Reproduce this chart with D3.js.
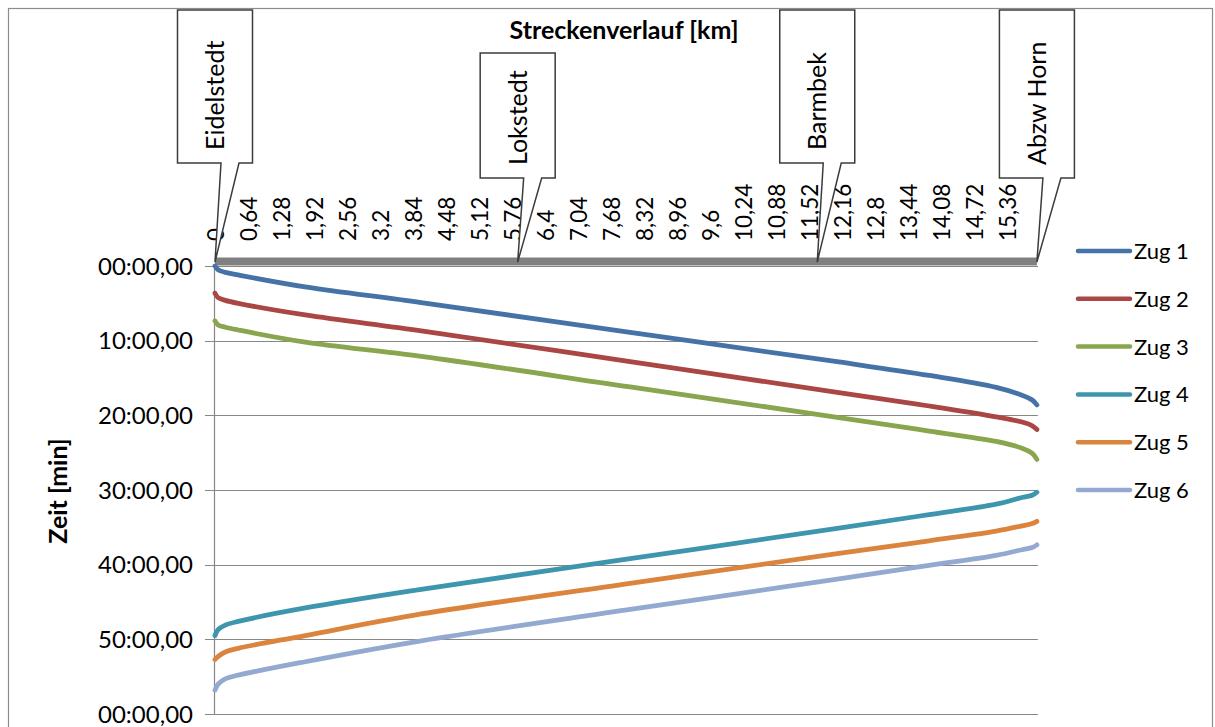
<!DOCTYPE html>
<html><head><meta charset="utf-8">
<script src="https://cdn.jsdelivr.net/npm/d3@7"></script>
<style>
body{margin:0;background:#fff}
svg{display:block}
text{font-family:Lato,"Open Sans",sans-serif;fill:#000}
</style>
</head><body>
<svg id="c" width="1215" height="727"></svg>
<script>
// ---- data ----
const km = [0, 0.06, 0.2, 0.45, 1.75, 4.0, 8.05, 12.1, 13.85, 15.15, 15.65, 15.85, 15.94];
const zug1 = [0, 0.5, 0.85, 1.2, 2.8, 4.9, 8.9, 12.85, 14.65, 16.25, 17.3, 17.95, 18.6];
const zug2 = [3.65, 4.24, 4.6, 5.0, 6.56, 8.7, 12.8, 16.96, 18.75, 20.2, 20.9, 21.4, 21.9];
const zug3 = [7.36, 7.9, 8.2, 8.57, 10.2, 12.1, 16.2, 20.3, 22.1, 23.5, 24.4, 25.1, 25.9];
const zug4 = [49.5, 48.7, 48.1, 47.6, 45.8, 43.3, 39.2, 35.1, 33.3, 31.9, 31.0, 30.7, 30.3];
const zug5 = [52.7, 52.3, 51.7, 51.2, 49.5, 46.6, 42.5, 38.5, 36.8, 35.5, 34.8, 34.5, 34.2];
const zug6 = [56.8, 56.0, 55.3, 54.8, 53.0, 50.2, 46.0, 41.9, 40.1, 38.75, 38.0, 37.7, 37.35];
const seriesNames = ["Zug 1", "Zug 2", "Zug 3", "Zug 4", "Zug 5", "Zug 6"];
const seriesColors = ["#4572A7", "#AA4643", "#89A54E", "#3D96AE", "#DB843D", "#93A9CF"];
const xTickValues = [0,0.64,1.28,1.92,2.56,3.2,3.84,4.48,5.12,5.76,6.4,7.04,7.68,8.32,8.96,9.6,10.24,10.88,11.52,12.16,12.8,13.44,14.08,14.72,15.36];
const xTickLabels = ["0","0,64","1,28","1,92","2,56","3,2","3,84","4,48","5,12","5,76","6,4","7,04","7,68","8,32","8,96","9,6","10,24","10,88","11,52","12,16","12,8","13,44","14,08","14,72","15,36"];
const yTickValues = [0, 10, 20, 30, 40, 50, 60];
const yTickLabels = ["00:00,00","10:00,00","20:00,00","30:00,00","40:00,00","50:00,00","00:00,00"];
const stations = ["Eidelstedt", "Lokstedt", "Barmbek", "Abzw Horn"];
const stationKm = [0, 5.87, 11.68, 15.94];
const routeEnd = 15.94;

// ---- layout ----
const svg = d3.select("#c");
const x = d3.scaleLinear().domain([0, 16]).range([215, 1040]);
const y = d3.scaleLinear().domain([0, 60]).range([266, 714]);
const gridColor = "#878787";

// outer frame
svg.append("rect").attr("x", 8.5).attr("y", 8.5).attr("width", 1204).attr("height", 740)
  .attr("fill", "none").attr("stroke", "#8c8c8c").attr("stroke-width", 1.2);

// gridlines
svg.append("g").selectAll("line").data(yTickValues).join("line")
  .attr("x1", 205).attr("x2", x(routeEnd) + 1)
  .attr("y1", d => Math.round(y(d)) + 0.5).attr("y2", d => Math.round(y(d)) + 0.5)
  .attr("stroke", gridColor).attr("stroke-width", 1.2);

// y axis line
svg.append("line").attr("x1", 214.5).attr("x2", 214.5).attr("y1", y(0)).attr("y2", y(60))
  .attr("stroke", gridColor).attr("stroke-width", 1.2);

// y tick labels
svg.append("g").selectAll("text").data(yTickValues).join("text")
  .attr("x", 193).attr("y", d => y(d)).attr("dy", "0.36em")
  .attr("text-anchor", "end").attr("font-size", 24)
  .text((d, i) => yTickLabels[i]);

// y title
svg.append("text").attr("transform", "translate(67,491) rotate(-90)")
  .attr("text-anchor", "middle").attr("font-size", 25).attr("font-weight", "bold")
  .text("Zeit [min]");

// x title
svg.append("text").attr("x", 624).attr("y", 39).attr("text-anchor", "middle")
  .attr("font-size", 25).attr("font-weight", "bold").text("Streckenverlauf [km]");

// x tick labels (rotated)
svg.append("g").selectAll("text").data(xTickValues).join("text")
  .attr("transform", d => `translate(${x(d) + 1},241) rotate(-90)`)
  .attr("dy", "0.36em").attr("font-size", 22.5)
  .text((d, i) => xTickLabels[i]);

// route bar
svg.append("line").attr("x1", x(0)).attr("x2", x(routeEnd))
  .attr("y1", y(0) - 4.5).attr("y2", y(0) - 4.5)
  .attr("stroke", "#808080").attr("stroke-width", 8);

// series lines
const allSeries = [zug1, zug2, zug3, zug4, zug5, zug6];
const line = d3.line().x((d, i) => x(km[i])).y(d => y(d)).curve(d3.curveCatmullRom.alpha(0.5));
svg.append("g").selectAll("path").data(allSeries).join("path")
  .attr("d", d => line(d)).attr("fill", "none")
  .attr("stroke", (d, i) => seriesColors[i]).attr("stroke-width", 4.8)
  .attr("stroke-linecap", "round").attr("stroke-linejoin", "round");

// station callouts
const boxTop = [10, 53, 10, 10];
const boxBottom = [163, 178, 163, 178];
const boxW = 75;
const tipY = y(0) - 4;
const cg = svg.append("g");
stations.forEach((name, i) => {
  const cx = x(stationKm[i]);
  const x0 = cx - boxW / 2, x1 = cx + boxW / 2;
  const p = `M${x0},${boxTop[i]} H${x1} V${boxBottom[i]} H${cx + 24} L${cx},${tipY} L${cx + 6},${boxBottom[i]} H${x0} Z`;
  cg.append("path").attr("d", p).attr("fill", "#fff").attr("stroke", "#3c3c3c").attr("stroke-width", 1.5)
    .attr("stroke-linejoin", "miter");
  cg.append("text").attr("transform", `translate(${cx},${boxBottom[i] - 13}) rotate(-90)`)
    .attr("dy", "0.36em").attr("font-size", 25).text(name);
});

// legend
const lg = svg.append("g");
seriesNames.forEach((n, i) => {
  const ly = 251 + i * 47.8;
  lg.append("line").attr("x1", 1078).attr("x2", 1130).attr("y1", ly).attr("y2", ly)
    .attr("stroke", seriesColors[i]).attr("stroke-width", 4.5).attr("stroke-linecap", "round");
  lg.append("text").attr("x", 1134).attr("y", ly).attr("dy", "0.36em").attr("font-size", 22).text(n);
});
</script>
</body></html>
